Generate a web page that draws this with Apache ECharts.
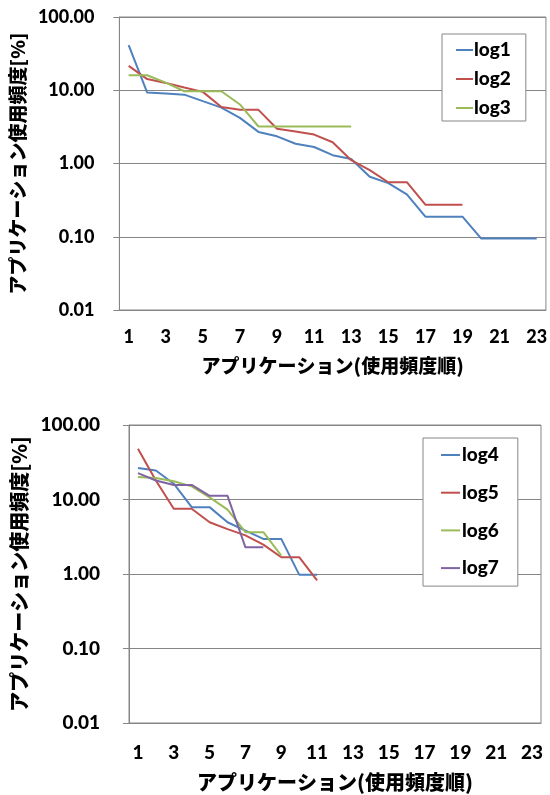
<!DOCTYPE html>
<html>
<head>
<meta charset="utf-8">
<script src="https://cdn.jsdelivr.net/npm/echarts@6/dist/echarts.min.js"></script>
<style>
html,body{margin:0;padding:0;background:#fff;}
#c{width:550px;height:795px;}
</style>
</head>
<body>
<div id="c"></div>
<script>
const categories = ['1','2','3','4','5','6','7','8','9','10','11','12','13','14','15','16','17','18','19','20','21','22','23'];
const yTicks = [0.01, 0.1, 1, 10, 100];
const log1 = [41.3, 9.3, 9.0, 8.7, 7.1, 5.8, 4.2, 2.7, 2.35, 1.86, 1.68, 1.30, 1.15, 0.66, 0.54, 0.38, 0.188, 0.188, 0.188, 0.095, 0.095, 0.095, 0.095];
const log2 = [21.5, 14.2, 12.6, 10.9, 9.5, 5.9, 5.4, 5.4, 2.98, 2.74, 2.48, 1.95, 1.11, 0.81, 0.555, 0.555, 0.274, 0.274, 0.274];
const log3 = [16.0, 16.0, 12.7, 9.7, 9.7, 9.7, 6.4, 3.2, 3.2, 3.2, 3.2, 3.2, 3.2];
const log4 = [26.5, 24.5, 16.3, 7.9, 7.9, 4.95, 3.83, 2.96, 2.96, 0.98, 0.98];
const log5 = [48, 18, 7.5, 7.5, 4.95, 4.0, 3.3, 2.48, 1.68, 1.68, 0.82];
const log6 = [20, 19.4, 17.6, 15, 10.7, 7.3, 3.64, 3.64, 1.77];
const log7 = [22.6, 18, 15.7, 15.7, 11.2, 11.2, 2.28, 2.28];

const xName = 'アプリケーション(使用頻度順)';
const yName = 'アプリケーション使用頻度[%]';
const gray = '#868686';
const numFont = 'Lato, "Noto Sans", sans-serif';
const cjkFont = '"Noto Sans CJK JP", sans-serif';
const colors = {log1:'#4F81BD', log2:'#C0504D', log3:'#9BBB59', log4:'#4F81BD', log5:'#C0504D', log6:'#9BBB59', log7:'#8064A2'};

function xAxis(gi, fs, margin, gap){
  return {
    type:'category', gridIndex:gi, data:categories, boundaryGap:true,
    axisLine:{lineStyle:{color:gray, width:1}},
    axisTick:{interval:0, length:5, lineStyle:{color:gray}},
    axisLabel:{interval:1, color:'#000', fontFamily:numFont, fontWeight:900, fontSize:fs, margin:margin},
    name:xName, nameLocation:'middle', nameGap:gap,
    nameTextStyle:{color:'#000', fontFamily:cjkFont, fontWeight:900, fontSize:fs+1}
  };
}
function yAxis(gi, fs, margin, gap){
  return {
    type:'log', logBase:10, gridIndex:gi, min:yTicks[0], max:yTicks[yTicks.length-1],
    axisLine:{show:true, lineStyle:{color:gray, width:1}},
    axisTick:{show:true, length:6, lineStyle:{color:gray}},
    splitLine:{show:true, lineStyle:{color:gray, width:1}},
    axisLabel:{color:'#000', fontFamily:numFont, fontWeight:900, fontSize:fs, margin:margin,
      formatter:v=>Number(v).toFixed(2)},
    name:yName, nameLocation:'middle', nameGap:gap, nameRotate:90,
    nameTextStyle:{color:'#000', fontFamily:cjkFont, fontWeight:900, fontSize:fs+1}
  };
}
function line(name, data, xi){
  return {name:name, type:'line', data:data, xAxisIndex:xi, yAxisIndex:xi,
    showSymbol:false, symbol:'none', lineStyle:{width:2, color:colors[name]}, itemStyle:{color:colors[name]}};
}

const chart = echarts.init(document.getElementById('c'), null, {renderer:'canvas'});
chart.setOption({
  animation:false,
  backgroundColor:'#fff',
  grid:[
    {left:117, top:17, width:431, height:293, show:true, borderColor:gray, borderWidth:1, containLabel:false},
    {left:129, top:425, width:412, height:298, show:true, borderColor:gray, borderWidth:1, containLabel:false}
  ],
  xAxis:[xAxis(0, 18, 18, 46), xAxis(1, 19, 20, 49)],
  yAxis:[yAxis(0, 18, 25, 87), yAxis(1, 19, 29, 97)],
  legend:[
    {data:['log1','log2','log3'], orient:'vertical', left:442, top:34,
      icon:'rect', itemWidth:17, itemHeight:2, itemGap:9,
      padding:[6,15,3,14], borderColor:gray, borderWidth:1, backgroundColor:'#fff',
      textStyle:{color:'#000', fontFamily:numFont, fontWeight:900, fontSize:19, lineHeight:20, padding:[0,0,0,-4]}},
    {data:['log4','log5','log6','log7'], orient:'vertical', left:423, top:438,
      icon:'rect', itemWidth:19, itemHeight:2, itemGap:17.7,
      padding:[7,19,8,18], borderColor:gray, borderWidth:1, backgroundColor:'#fff',
      textStyle:{color:'#000', fontFamily:numFont, fontWeight:900, fontSize:19, lineHeight:20, padding:[0,0,0,-3]}}
  ],
  series:[
    line('log1', log1, 0), line('log2', log2, 0), line('log3', log3, 0),
    line('log4', log4, 1), line('log5', log5, 1), line('log6', log6, 1), line('log7', log7, 1)
  ]
});
</script>
</body>
</html>
